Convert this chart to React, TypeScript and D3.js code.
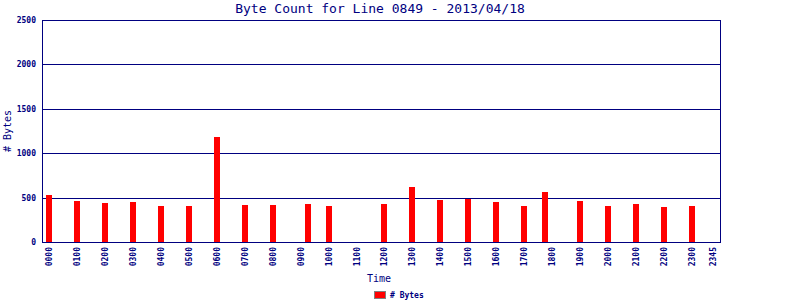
import React from "react";
import * as d3 from "d3";

const barTimes = ["0000","0100","0200","0300","0400","0500","0600","0700","0800","0915","1000","1200","1300","1400","1500","1600","1700","1745","1900","2000","2100","2200","2300"];
const barValues = [533,457,435,446,401,401,1178,412,412,423,401,423,615,468,480,446,401,558,457,401,423,390,401];
const xTickLabels = ["0000","0100","0200","0300","0400","0500","0600","0700","0800","0900","1000","1100","1200","1300","1400","1500","1600","1700","1800","1900","2000","2100","2200","2300","2345"];
const yTicks = [0,500,1000,1500,2000,2500];

const toMin = (t: string) => parseInt(t.slice(0, 2)) * 60 + parseInt(t.slice(2));

const NAVY = "#000080";
const W = 800, H = 300;
const L = 42, R = 720, T = 20, B = 242;

export default function App() {
  const x = d3.scaleLinear().domain([-14, 1439]).range([L, R]);
  const y = d3.scaleLinear().domain([0, 2500]).range([B, T]);
  const bw = 6;
  return (
    <svg width={W} height={H} style={{ position: "absolute", left: 0, top: 0, background: "#fff" }}>
      <text x={380} y={13} textAnchor="middle" fontFamily="DejaVu Sans Mono" fontSize={13} fill={NAVY}>Byte Count for Line 0849 - 2013/04/18</text>
      {yTicks.map((v) => (
        <g key={v}>
          {v > 0 && <line x1={L} x2={R} y1={Math.round(y(v)) + 0.5} y2={Math.round(y(v)) + 0.5} stroke={NAVY} strokeWidth={1} />}
          <text x={36} y={Math.round(y(v)) + 3} textAnchor="end" fontFamily="DejaVu Sans Mono" fontWeight="bold" fontSize={8} fill={NAVY}>{v}</text>
        </g>
      ))}
      {barTimes.map((t, i) => (
        <rect key={t} x={Math.round(x(toMin(t)) - bw / 2)} y={Math.round(y(barValues[i]))} width={bw} height={B - Math.round(y(barValues[i]))} fill="#ff0000" />
      ))}
      <line x1={L + 0.5} x2={L + 0.5} y1={T} y2={B + 1} stroke={NAVY} />
      <line x1={R + 0.5} x2={R + 0.5} y1={T} y2={B + 1} stroke={NAVY} />
      <line x1={L} x2={R + 1} y1={B + 0.5} y2={B + 0.5} stroke={NAVY} />
      {xTickLabels.map((t) => {
        const px = x(toMin(t)) + 3;
        return (
          <text key={t} transform={`translate(${px},247) rotate(-90)`} textAnchor="end" fontFamily="DejaVu Sans Mono" fontWeight="bold" fontSize={8} fill={NAVY}>{t}</text>
        );
      })}
      <text transform={`translate(11,131) rotate(-90)`} textAnchor="middle" fontFamily="DejaVu Sans Mono" fontSize={10} fill={NAVY}>{"# Bytes"}</text>
      <text x={379} y={282} textAnchor="middle" fontFamily="DejaVu Sans Mono" fontSize={10} fill={NAVY}>Time</text>
      <rect x={374.5} y={291.5} width={11} height={7} fill="#ff0000" stroke="#808080" />
      <text x={390} y={298} fontFamily="DejaVu Sans Mono" fontWeight="bold" fontSize={8} fill={NAVY}>{"# Bytes"}</text>
    </svg>
  );
}
